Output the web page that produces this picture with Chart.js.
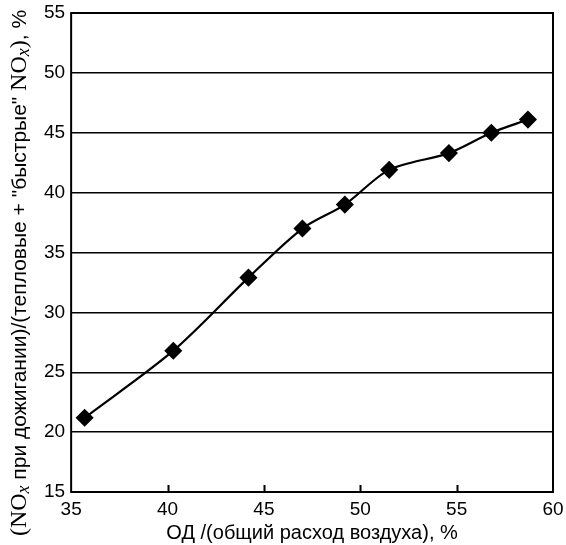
<!DOCTYPE html>
<html>
<head>
<meta charset="utf-8">
<script src="https://cdn.jsdelivr.net/npm/chart.js@4.4.1/dist/chart.umd.min.js"></script>
<style>
  body { margin: 0; background: #fff; }
  #wrap { width: 566px; height: 545px; }
</style>
</head>
<body>
<div id="wrap"><canvas id="myChart" width="566" height="545"></canvas></div>
<script>
// доля воздуха ОД, %
const airShare = [35.7, 40.3, 44.2, 47.0, 49.2, 51.5, 54.6, 56.8, 58.7];
// доля NOx при дожигании, %
const noxShare = [21.2, 26.8, 32.9, 37.0, 39.0, 41.9, 43.3, 45.0, 46.1];
const xTicks = [35, 40, 45, 50, 55, 60];
const yTicks = [15, 20, 25, 30, 35, 40, 45, 50, 55];

const points = airShare.map((x, i) => ({ x: x, y: noxShare[i] }));

// рамка графика и внутренние засечки на оси X
const frameAndTicks = {
  id: 'frameAndTicks',
  afterDraw(chart) {
    const { ctx, chartArea: { left, top, right, bottom }, scales } = chart;
    ctx.save();
    ctx.strokeStyle = '#000';
    ctx.lineWidth = 2;
    ctx.strokeRect(left, top, right - left, bottom - top);
    ctx.beginPath();
    xTicks.slice(1, -1).forEach(v => {
      const px = Math.round(scales.x.getPixelForValue(v)) + 0.5;
      ctx.moveTo(px, bottom);
      ctx.lineTo(px, bottom - 7);
    });
    ctx.stroke();
    ctx.restore();
  }
};

// подпись оси Y с нижним индексом x
const yTitle = {
  id: 'yTitle',
  afterDraw(chart) {
    const { ctx } = chart;
    const parts = [
      { t: '(NO', f: '24px "Liberation Serif"', dy: 0 },
      { t: 'x', f: 'italic 18px "Liberation Serif"', dy: 4 },
      { t: ' при дожигании)/(тепловые + "быстрые" ', f: '21px "Liberation Sans"', dy: 0 },
      { t: 'NO', f: '24px "Liberation Serif"', dy: 0 },
      { t: 'x', f: 'italic 18px "Liberation Serif"', dy: 4 },
      { t: ')', f: '24px "Liberation Serif"', dy: 0 },
      { t: ', %', f: '21px "Liberation Sans"', dy: 0 }
    ];
    ctx.save();
    let total = 0;
    parts.forEach(p => { ctx.font = p.f; p.w = ctx.measureText(p.t).width; total += p.w; });
    ctx.translate(20, 273);
    ctx.rotate(-Math.PI / 2);
    ctx.fillStyle = '#000';
    ctx.textBaseline = 'middle';
    let cx = -total / 2;
    parts.forEach(p => {
      ctx.font = p.f;
      ctx.fillText(p.t, cx, p.dy);
      cx += p.w;
    });
    ctx.restore();
  }
};

new Chart(document.getElementById('myChart'), {
  type: 'scatter',
  data: {
    datasets: [{
      data: points,
      showLine: true,
      borderColor: '#000',
      backgroundColor: '#000',
      borderWidth: 2.2,
      tension: 0.3,
      pointStyle: 'rectRot',
      pointRadius: 7.5,
      pointHoverRadius: 7.5
    }]
  },
  options: {
    responsive: false,
    animation: false,
    layout: { padding: { left: 38, top: 13, right: 13, bottom: 0 } },
    plugins: {
      legend: { display: false },
      tooltip: { enabled: false }
    },
    scales: {
      x: {
        type: 'linear',
        min: 35,
        max: 60,
        afterBuildTicks: axis => { axis.ticks = xTicks.map(v => ({ value: v })); },
        afterFit: s => { s.height = 53; s.paddingLeft = 0; s.paddingRight = 0; },
        grid: { display: false, drawTicks: false },
        border: { display: false },
        ticks: { color: '#000', padding: 6, font: { family: 'Liberation Sans', size: 19 } },
        title: {
          display: true,
          text: 'ОД /(общий расход воздуха), %',
          color: '#000',
          padding: { top: 0, bottom: 0 },
          font: { family: 'Liberation Sans', size: 20 }
        }
      },
      y: {
        min: 15,
        max: 55,
        afterBuildTicks: axis => { axis.ticks = yTicks.map(v => ({ value: v })); },
        afterFit: s => { s.paddingTop = 0; s.paddingBottom = 0; },
        grid: { color: '#000', lineWidth: 1.5, drawTicks: false },
        border: { display: false },
        ticks: { color: '#000', padding: 6, font: { family: 'Liberation Sans', size: 19 } }
      }
    }
  },
  plugins: [frameAndTicks, yTitle]
});
</script>
</body>
</html>
